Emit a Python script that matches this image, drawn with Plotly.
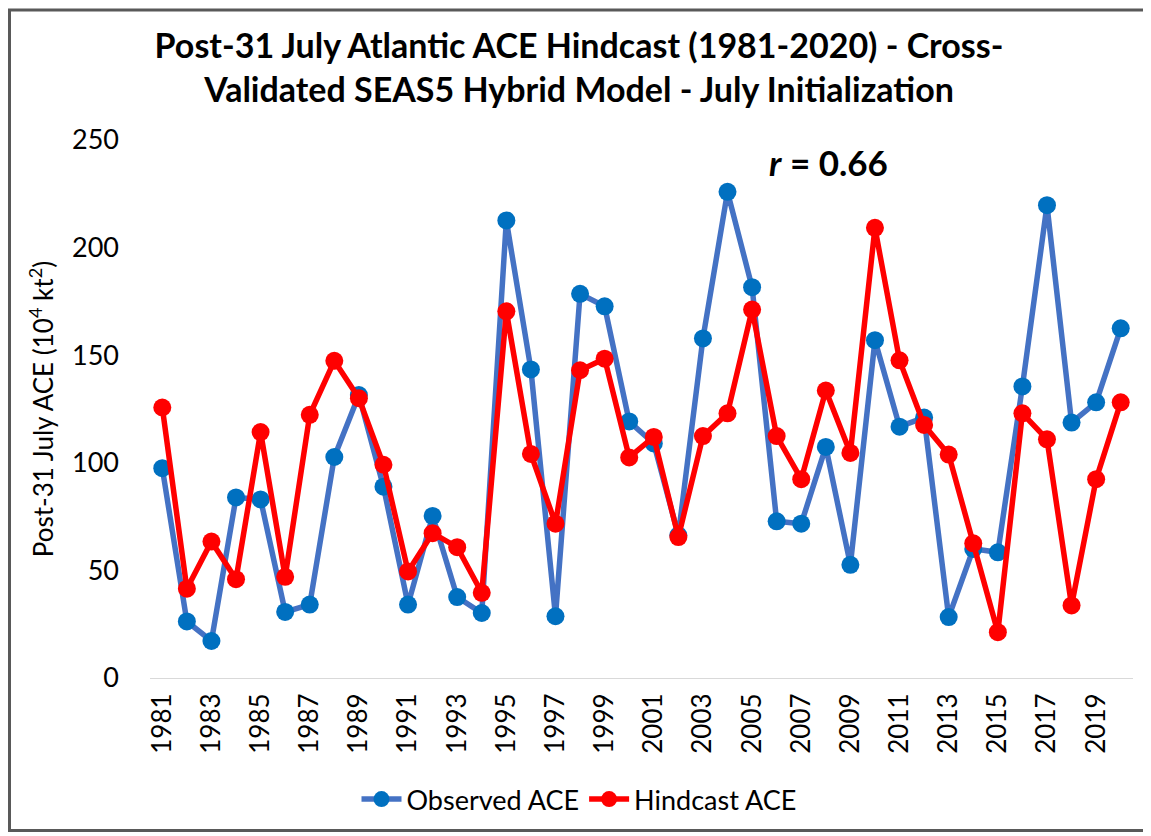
import plotly.graph_objects as go

# Hindcast period
years = list(range(1981, 2021))

# Observed post-31 July ACE (10^4 kt^2)
observed_ace = [97.5, 26.3, 17.2, 83.9, 83.0, 30.7, 34.1, 102.7, 131.5, 88.9,
                34.1, 75.3, 37.6, 30.2, 212.6, 143.4, 28.7, 178.5, 172.7, 119.2,
                109.0, 66.3, 157.8, 225.9, 181.6, 72.8, 71.7, 107.4, 52.6, 157.0,
                116.8, 121.0, 28.3, 60.0, 58.4, 135.5, 219.7, 118.7, 128.1, 162.5]

# Cross-validated SEAS5 hybrid model hindcast
hindcast_ace = [125.7, 41.5, 63.4, 45.9, 114.3, 47.0, 122.3, 147.4, 130.0, 99.1,
                49.5, 67.3, 60.8, 39.6, 170.4, 104.1, 71.7, 143.0, 148.4, 102.5,
                112.0, 65.5, 112.4, 123.0, 171.2, 112.4, 92.4, 133.6, 104.6, 209.2,
                147.6, 117.6, 103.8, 62.6, 21.3, 123.0, 110.9, 33.7, 92.4, 128.1]

tick_years = list(range(1981, 2021, 2))
y_ticks = [0, 50, 100, 150, 200, 250]

FONT = "Lato, 'Open Sans', sans-serif"

fig = go.Figure()
fig.add_trace(go.Scatter(
    x=years, y=observed_ace, name="Observed ACE", mode="lines+markers",
    line=dict(color="#4472C4", width=5.5),
    marker=dict(color="#0070C0", size=18),
))
fig.add_trace(go.Scatter(
    x=years, y=hindcast_ace, name="Hindcast ACE", mode="lines+markers",
    line=dict(color="#FF0000", width=5.5),
    marker=dict(color="#FF0000", size=18),
))

# page has an 8px body margin, so the figure is 8px smaller than the window
W, H = 1143, 828
L, T = 142, 132
R = W - L - 983
B = H - 672
pw, ph = W - L - R, H - T - B

def px_x(p):
    return (p - L) / pw

def px_y(p):
    return (H - B - p) / ph

fig.update_layout(
    width=W, height=H,
    margin=dict(l=L, r=R, t=T, b=B),
    plot_bgcolor="white", paper_bgcolor="white",
    font=dict(family=FONT, color="#000000"),
    title=dict(
        text="Post-31 July Atlantic ACE Hindcast (1981-2020) - Cross-<br>"
             "Validated SEAS5 Hybrid Model - July Initialization",
        x=571 / W, xanchor="center", y=1 - 50 / H, yanchor="middle",
        font=dict(family=FONT, size=34, color="#000000", weight="bold"),
    ),
    xaxis=dict(
        range=[1980.5, 2020.5], tickvals=tick_years, tickangle=-90,
        tickfont=dict(size=26, color="#000000"),
        showgrid=False, zeroline=False,
        showline=True, linecolor="#d9d9d9", linewidth=1,
        ticks="", ticklabelstandoff=4,
    ),
    yaxis=dict(
        range=[0, 250], tickvals=y_ticks,
        tickfont=dict(size=27, color="#000000"),
        showgrid=False, zeroline=False, showline=False, ticks="",
        ticklabelstandoff=30,
        title=dict(text="Post-31 July ACE (10<sup>4</sup> kt<sup>2</sup>)",
                   font=dict(size=26, color="#000000"), standoff=10),
    ),
    legend=dict(
        orientation="h", x=px_x(571), xanchor="center",
        y=px_y(794), yanchor="middle",
        font=dict(size=27, color="#000000"),
        itemwidth=40,
    ),
    showlegend=True,
)

fig.add_annotation(
    text="<b><i>r</i> = 0.66</b>", xref="paper", yref="paper",
    x=px_x(820), y=px_y(154), xanchor="center", yanchor="middle",
    showarrow=False, font=dict(family=FONT, size=35, color="#000000"),
)

# outer chart border
fig.add_shape(
    type="rect", xref="paper", yref="paper",
    x0=px_x(1.5), x1=px_x(1140), y0=px_y(825), y1=px_y(1.5),
    line=dict(color="#595959", width=3), fillcolor="rgba(0,0,0,0)",
    layer="above",
)

fig.write_html("out.html")
